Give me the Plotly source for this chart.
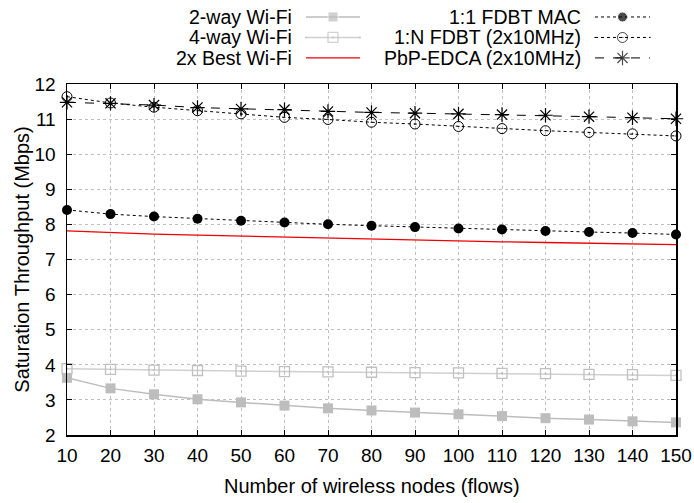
import plotly.graph_objects as go

nodes = [10, 20, 30, 40, 50, 60, 70, 80, 90, 100, 110, 120, 130, 140, 150]
two_way_wifi = [3.63, 3.33, 3.16, 3.02, 2.93, 2.84, 2.76, 2.70, 2.64, 2.59, 2.54, 2.48, 2.44, 2.39, 2.36]
four_way_wifi = [3.89, 3.87, 3.85, 3.84, 3.82, 3.81, 3.80, 3.79, 3.78, 3.77, 3.76, 3.75, 3.73, 3.72, 3.70]
best_wifi_2x = [7.82, 7.77, 7.73, 7.70, 7.67, 7.64, 7.61, 7.58, 7.56, 7.53, 7.51, 7.49, 7.47, 7.45, 7.43]
fdbt_11 = [8.42, 8.30, 8.23, 8.17, 8.11, 8.06, 8.01, 7.97, 7.93, 7.89, 7.86, 7.82, 7.79, 7.76, 7.72]
fdbt_1n = [11.65, 11.47, 11.35, 11.25, 11.16, 11.06, 11.00, 10.92, 10.87, 10.80, 10.74, 10.68, 10.63, 10.59, 10.53]
pbp_edca = [11.49, 11.46, 11.41, 11.34, 11.30, 11.28, 11.23, 11.20, 11.18, 11.16, 11.14, 11.12, 11.08, 11.05, 11.02]

x_ticks = list(range(10, 151, 10))
y_ticks = list(range(2, 13))
x_title = "Number of wireless nodes (flows)"
y_title = "Saturation Throughput (Mbps)"

FONT = "Liberation Sans, Arial, Helvetica, sans-serif"
W, H = 694, 503
ML, MR, MT, MB = 67, 18, 0, 67.5
PLOT_TOP_PX = 84.5
paper_h = H - MT - MB
paper_w = W - ML - MR
y_dom_top = (H - MB - PLOT_TOP_PX) / paper_h
leg_dom_bot = y_dom_top + 0.01
leg_px_bot = (1 - leg_dom_bot) * paper_h + MT

styles = [
    dict(name="2-way Wi-Fi", y=two_way_wifi,
         line=dict(color="#bdbdbd", width=1.5),
         marker=dict(symbol="square", size=10, color="#bdbdbd"), mode="lines+markers"),
    dict(name="4-way Wi-Fi", y=four_way_wifi,
         line=dict(color="#d0d0d0", width=1.5),
         marker=dict(symbol="square-open-dot", size=10, color="#c0c0c0", line=dict(width=1.3)), mode="lines+markers"),
    dict(name="2x Best Wi-Fi", y=best_wifi_2x,
         line=dict(color="#f00000", width=1.3),
         marker=dict(size=0), mode="lines"),
    dict(name="1:1 FDBT MAC", y=fdbt_11,
         line=dict(color="black", width=1, dash="dot"),
         marker=dict(symbol="circle", size=10, color="black"), mode="lines+markers"),
    dict(name="1:N FDBT (2x10MHz)", y=fdbt_1n,
         line=dict(color="black", width=1, dash="dot"),
         marker=dict(symbol="circle-open-dot", size=10, color="black", line=dict(width=1)), mode="lines+markers"),
    dict(name="PbP-EDCA (2x10MHz)", y=pbp_edca,
         line=dict(color="black", width=1, dash="dash"),
         marker=dict(symbol="asterisk-open", size=12, color="black", line=dict(width=1.2)), mode="lines+markers"),
]

fig = go.Figure()
for s in styles:
    fig.add_trace(go.Scatter(x=nodes, y=s["y"], name=s["name"], mode=s["mode"],
                             line=s["line"], marker=s["marker"], showlegend=False,
                             cliponaxis=False, xaxis="x", yaxis="y"))

# Manual legend (text to the left of the sample), drawn on a hidden pixel-scaled axis
legend_rows_px = [17, 37.5, 58]
legend_cols = [dict(text_right=294, x0=306, x1=360),
               dict(text_right=583, x0=595, x1=650)]
annotations = []
for i, s in enumerate(styles):
    col = legend_cols[i // 3]
    ypx = legend_rows_px[i % 3]
    xm = (col["x0"] + col["x1"]) / 2
    msize = s["marker"].get("size", 0)
    mk = dict(s["marker"])
    mk["size"] = [0, msize, 0]
    fig.add_trace(go.Scatter(x=[col["x0"], xm, col["x1"]], y=[ypx] * 3,
                             mode="lines+markers", line=s["line"], marker=mk,
                             showlegend=False, xaxis="x2", yaxis="y2", hoverinfo="skip",
                             cliponaxis=False))
    annotations.append(dict(x=col["text_right"], y=ypx, xref="x2", yref="y2",
                            text=s["name"], showarrow=False, xanchor="right", yanchor="middle",
                            font=dict(family=FONT, size=19.5, color="black")))

# axis titles
annotations.append(dict(x=0.5, y=(H - MB - 487) / paper_h, xref="paper", yref="paper",
                        text=x_title, showarrow=False, xanchor="center", yanchor="middle",
                        font=dict(family=FONT, size=20, color="black")))
annotations.append(dict(x=(22 - ML) / paper_w, y=(H - MB - 260) / paper_h,
                        xref="paper", yref="paper",
                        text=y_title, showarrow=False, xanchor="center", yanchor="middle",
                        textangle=-90, font=dict(family=FONT, size=20, color="black")))

axis_common = dict(showline=True, linecolor="black", linewidth=1.5, mirror="ticks",
                   ticks="inside", ticklen=5, tickwidth=1, tickcolor="black",
                   showgrid=True, gridcolor="#c0c0c0", gridwidth=1, griddash="dot",
                   zeroline=False, automargin=False,
                   tickfont=dict(family=FONT, size=19, color="black"))

fig.update_layout(
    width=W, height=H,
    margin=dict(l=ML, r=MR, t=MT, b=MB, pad=0, autoexpand=False),
    paper_bgcolor="white", plot_bgcolor="white",
    font=dict(family=FONT, size=19, color="black"),
    hovermode=False,
    xaxis=dict(range=[10, 150], tickvals=x_ticks, domain=[0, 1], anchor="y",
               ticklabelstandoff=3, **axis_common),
    yaxis=dict(range=[2, 12], tickvals=y_ticks, domain=[0, y_dom_top], anchor="x",
               ticklabelstandoff=6, **axis_common),
    xaxis2=dict(range=[ML, W - MR], domain=[0, 1], anchor="y2", visible=False, fixedrange=True),
    yaxis2=dict(range=[leg_px_bot, MT], domain=[leg_dom_bot, 1], anchor="x2", visible=False, fixedrange=True),
    annotations=annotations,
)

# remove the browser's default 8px body margin so the figure fills the window exactly
fig.write_html("out.html",
               config={"displayModeBar": False, "staticPlot": True},
               post_script="document.body.style.margin='0';document.body.style.overflow='hidden';")
